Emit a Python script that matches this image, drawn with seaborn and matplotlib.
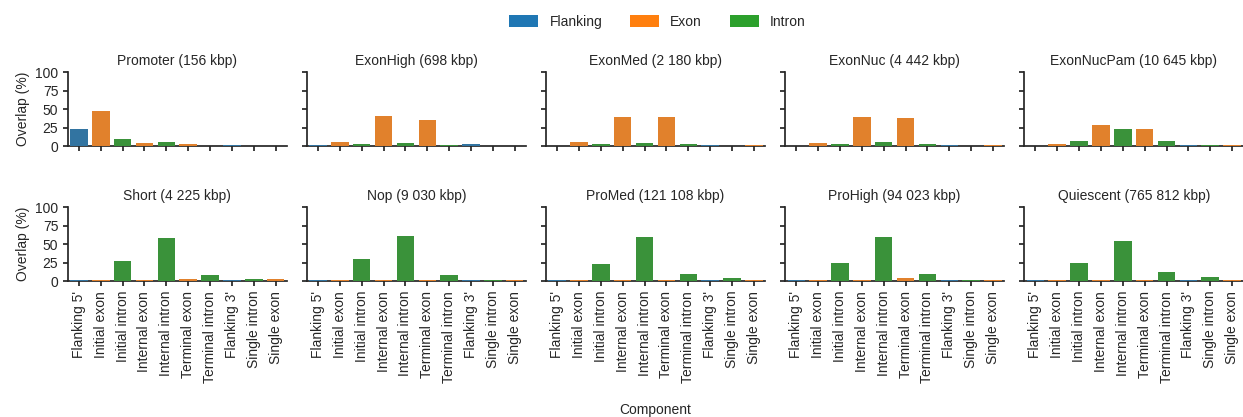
import numpy as np
import pandas as pd
import matplotlib
matplotlib.use("Agg")
import matplotlib.pyplot as plt
from matplotlib.patches import Patch
import seaborn as sns

components = ["Flanking 5'", "Initial exon", "Initial intron", "Internal exon",
              "Internal intron", "Terminal exon", "Terminal intron", "Flanking 3'",
              "Single intron", "Single exon"]
comp_types = ["Flanking", "Exon", "Intron", "Exon", "Intron", "Exon", "Intron",
              "Flanking", "Intron", "Exon"]
type_order = ["Flanking", "Exon", "Intron"]

states = ["Promoter", "ExonHigh", "ExonMed", "ExonNuc", "ExonNucPam",
          "Short", "Nop", "ProMed", "ProHigh", "Quiescent"]
sizes_kbp = ["156", "698", "2 180", "4 442", "10 645",
             "4 225", "9 030", "121 108", "94 023", "765 812"]

promoter   = [23.0, 47.3, 9.5, 4.0, 5.4, 2.7, 0.0, 1.3, 0.0, 0.0]
exonhigh   = [1.3, 5.9, 2.7, 40.5, 4.0, 35.0, 1.3, 2.7, 0.0, 0.0]
exonmed    = [0.0, 5.9, 2.7, 39.2, 4.0, 39.2, 2.7, 1.3, 0.0, 1.3]
exonnuc    = [0.0, 4.0, 2.7, 39.2, 5.4, 37.8, 2.7, 1.3, 0.0, 1.3]
exonnucpam = [0.0, 2.7, 6.8, 28.4, 23.0, 23.0, 6.8, 1.3, 1.3, 1.3]
short      = [1.0, 1.0, 27.0, 1.0, 58.0, 2.7, 8.1, 1.0, 2.7, 2.7]
nop        = [1.0, 1.0, 29.3, 1.0, 60.4, 1.8, 7.7, 1.0, 1.8, 1.0]
promed     = [1.0, 1.0, 22.5, 1.0, 59.0, 1.8, 9.0, 1.0, 3.6, 1.0]
prohigh    = [2.0, 1.0, 23.9, 1.0, 59.0, 3.6, 9.0, 2.0, 2.0, 1.0]
quiescent  = [2.0, 1.0, 24.0, 1.0, 53.6, 1.8, 11.7, 2.0, 5.0, 1.0]

values = [promoter, exonhigh, exonmed, exonnuc, exonnucpam,
          short, nop, promed, prohigh, quiescent]

sns.set_theme(style="ticks")
plt.rcParams["font.family"] = ["Liberation Sans", "DejaVu Sans"]
plt.rcParams["font.size"] = 10

palette = dict(zip(type_order, sns.color_palette("tab10", 3)))

fig, axes = plt.subplots(2, 5, figsize=(12.43, 4.17), dpi=100, sharex=True, sharey=True)
fig.subplots_adjust(left=0.0547, right=1.0, bottom=0.326, top=0.827,
                    wspace=0.094, hspace=0.824)

for i, ax in enumerate(axes.flat):
    df = pd.DataFrame({"Component": components, "Type": comp_types,
                       "Overlap": values[i]})
    sns.barplot(data=df, x="Component", y="Overlap", hue="Type",
                hue_order=type_order, palette=palette, dodge=False,
                order=components, legend=False, linewidth=0, ax=ax)
    for p in ax.patches:
        p.set_zorder(3)
        if p.get_height() <= 0:
            p.set_visible(False)
    ax.set_title(f"{states[i]} ({sizes_kbp[i]} kbp)", fontsize=10, pad=5)
    ax.set_ylim(0, 100)
    ax.set_yticks([0, 25, 50, 75, 100])
    ax.set_xlabel("")
    ax.set_ylabel("Overlap (%)" if i % 5 == 0 else "", fontsize=10)
    ax.tick_params(axis="x", rotation=90, labelsize=10, length=3.5)
    ax.tick_params(axis="y", labelsize=10, length=3.5)
    sns.despine(ax=ax)

fig.text(0.527, 0.0, "Component", ha="center", va="bottom", fontsize=10)

handles = [Patch(facecolor=palette[t], edgecolor="none", label=t) for t in type_order]
fig.legend(handles=handles, loc="upper center", bbox_to_anchor=(0.529, 0.995),
           ncol=3, frameon=False, fontsize=10, handlelength=2.1,
           handleheight=1.0, columnspacing=2.0, handletextpad=0.8)

fig.savefig("out.png", dpi=100)
